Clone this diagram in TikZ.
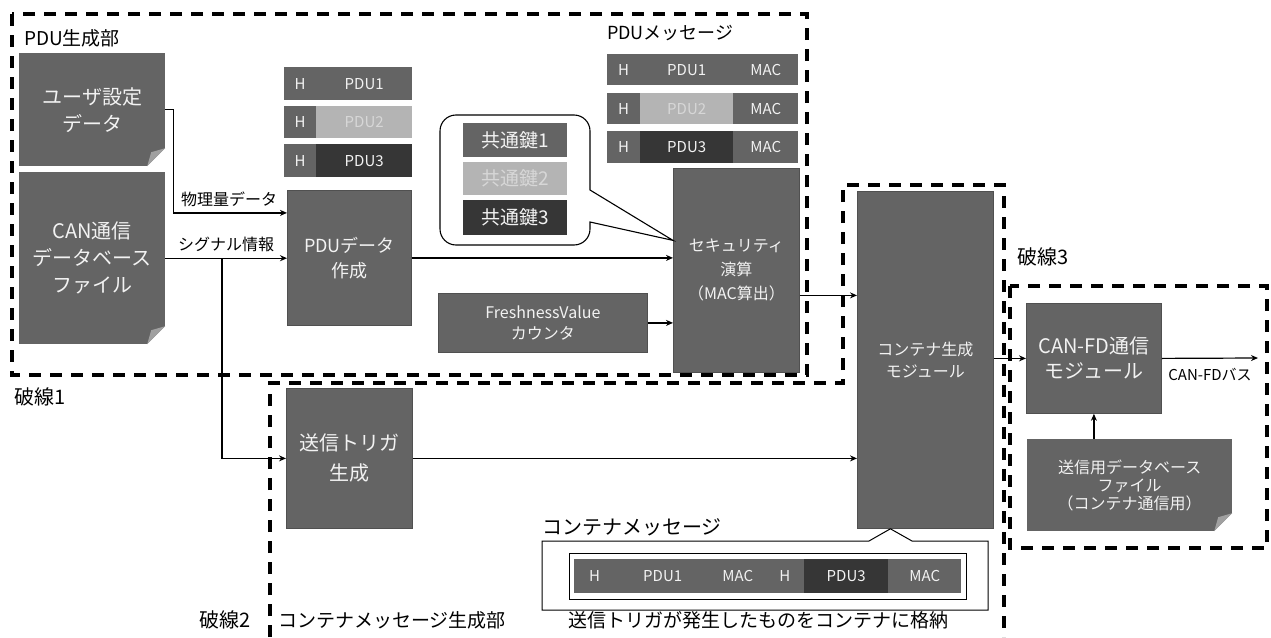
\documentclass[tikz,border=0pt]{standalone}
\usepackage{fontspec}
\setmainfont{Noto Sans CJK JP}
\usetikzlibrary{arrows.meta,calc}
\definecolor{mid}{RGB}{100,100,100}
\definecolor{midb}{RGB}{80,80,80}
\definecolor{lite}{RGB}{180,180,180}
\definecolor{litetxt}{RGB}{215,215,215}
\definecolor{dark}{RGB}{54,54,54}
\definecolor{txt}{RGB}{242,242,242}
\definecolor{fold}{RGB}{160,160,160}
\newcommand\fsz[2]{\fontsize{#1pt}{#2pt}\selectfont}
\begin{document}
\begin{tikzpicture}[x=1pt,y=-1pt,
  blk/.style={fill=mid, draw=midb, line width=0.8pt, text=txt, align=center, inner sep=0pt, anchor=north west},
  docshape/.style={fill=mid, text=txt, align=center, inner sep=0pt, anchor=north west,
    path picture={
      \fill[white] ([xshift=-18pt]path picture bounding box.south east) -- (path picture bounding box.south east) -- ([yshift=18pt]path picture bounding box.south east) -- cycle;
      \fill[fold] ([xshift=-18pt]path picture bounding box.south east) -- ([yshift=18pt]path picture bounding box.south east) -- ([xshift=-14pt,yshift=14pt]path picture bounding box.south east) -- cycle;
    }},
  seg/.style={inner sep=0pt, anchor=north west, text=txt, font=\fsz{15}{18}},
  zone/.style={draw=black, line width=3.2pt, dash pattern=on 12pt off 9pt},
  lbl/.style={inner sep=0pt, text=black},
  arr/.style={draw=black, line width=1.2pt, -{Stealth[length=7pt,width=6pt]}},
]
\useasboundingbox (0,0) rectangle (1271,637);
\fill[white] (0,0) rectangle (1271,637);

% dashed zones
\draw[zone] (12,14) rectangle (807,375);
\draw[zone] (270,637) -- (270,383) -- (843,383) -- (843,185) -- (1004,185) -- (1004,637);
\draw[zone] (1010,286) rectangle (1267,548);

% zone labels
\node[lbl, anchor=west, font=\fsz{19}{22}] (t1) at (24,38) {PDU生成部};
\node[lbl, anchor=west, font=\fsz{20}{24}] (t2) at (14,397) {破線1};
\node[lbl, anchor=west, font=\fsz{20}{24}] (t3) at (199,620) {破線2};
\node[lbl, anchor=west, font=\fsz{19}{22}] (t4) at (278,620) {コンテナメッセージ生成部};
\node[lbl, anchor=west, font=\fsz{19}{22}] (t5) at (568,620) {送信トリガが発生したものをコンテナに格納};
\node[lbl, anchor=west, font=\fsz{20}{24}] (t6) at (1017,257) {破線3};
\node[lbl, anchor=west, font=\fsz{18}{22}] (t7) at (607,33) {PDUメッセージ};
\node[lbl, anchor=west, font=\fsz{20}{24}] (t8) at (542,527) {コンテナメッセージ};

% documents
\node[docshape, minimum width=146pt, minimum height=113pt, font=\fsz{20}{27}] (user) at (19,53) {ユーザ設定\\データ};
\node[docshape, minimum width=146pt, minimum height=172pt, font=\fsz{20}{27}] (can) at (19,172) {CAN通信\\データベース\\ファイル};
\node[docshape, minimum width=205pt, minimum height=92pt, font=\fsz{16}{18}] (db) at (1027,439) {送信用データベース\\ファイル\\（コンテナ通信用）};

% blocks
\node[blk, minimum width=124pt, minimum height=135pt, font=\fsz{18}{25}] (pdu) at (287,190) {PDUデータ\\作成};
\node[blk, minimum width=126pt, minimum height=204pt, font=\fsz{16}{24}] (sec) at (673,168) {セキュリティ\\演算\\（MAC算出）};
\node[blk, minimum width=209pt, minimum height=59pt, font=\fsz{16}{21}] (fresh) at (438,293) {FreshnessValue\\カウンタ};
\node[blk, minimum width=126pt, minimum height=140pt, font=\fsz{20}{30}] (trig) at (286,388) {送信トリガ\\生成};
\node[blk, minimum width=136pt, minimum height=337pt, font=\fsz{16}{22}] (cont) at (857,191) {コンテナ生成\\モジュール};
\node[blk, minimum width=135pt, minimum height=110pt, font=\fsz{20}{25}] (canfd) at (1026,303) {CAN-FD通信\\モジュール};

% PDU rows (left)
\node[seg, fill=mid, minimum width=32pt, minimum height=33pt] (a1h) at (284,67) {H};
\node[seg, fill=mid, minimum width=96pt, minimum height=33pt] (a1p) at (316,67) {PDU1};
\node[seg, fill=mid, minimum width=32pt, minimum height=32pt] (a2h) at (284,106) {H};
\node[seg, fill=lite, text=litetxt, minimum width=96pt, minimum height=32pt] (a2p) at (316,106) {PDU2};
\node[seg, fill=mid, minimum width=32pt, minimum height=33pt] (a3h) at (284,144) {H};
\node[seg, fill=dark, minimum width=96pt, minimum height=33pt] (a3p) at (316,144) {PDU3};

% PDU message rows
\node[seg, fill=mid, minimum width=33pt, minimum height=31pt] (b1h) at (607,54) {H};
\node[seg, fill=mid, minimum width=93pt, minimum height=31pt] (b1p) at (640,54) {PDU1};
\node[seg, fill=mid, minimum width=65pt, minimum height=31pt] (b1m) at (733,54) {MAC};
\node[seg, fill=mid, minimum width=33pt, minimum height=31pt] (b2h) at (607,93) {H};
\node[seg, fill=lite, text=litetxt, minimum width=93pt, minimum height=31pt] (b2p) at (640,93) {PDU2};
\node[seg, fill=mid, minimum width=65pt, minimum height=31pt] (b2m) at (733,93) {MAC};
\node[seg, fill=mid, minimum width=33pt, minimum height=32pt] (b3h) at (607,131) {H};
\node[seg, fill=dark, minimum width=93pt, minimum height=32pt] (b3p) at (640,131) {PDU3};
\node[seg, fill=mid, minimum width=65pt, minimum height=32pt] (b3m) at (733,131) {MAC};

% key callout
\coordinate (ktip) at ([yshift=30pt]sec.west);
\draw[line width=1.1pt, fill=white] (590,190) [rounded corners=16pt] -- (590,115) -- (440,115) -- (440,245) -- (590,245) [sharp corners] -- (590,222) -- (ktip) -- cycle;
\node[seg, fill=mid, font=\fsz{19}{22}, minimum width=104pt, minimum height=34pt] (k1) at (463,123) {共通鍵1};
\node[seg, fill=lite, text=litetxt, font=\fsz{19}{22}, minimum width=104pt, minimum height=33pt] (k2) at (463,162) {共通鍵2};
\node[seg, fill=dark, font=\fsz{19}{22}, minimum width=104pt, minimum height=35pt] (k3) at (463,200) {共通鍵3};

% container message callout
\coordinate (ctip) at ([xshift=-35pt]cont.south);
\draw[line width=1pt, fill=white] (542,541) -- (869,541) -- (ctip) -- (912,541) -- (988,541) -- (988,610) -- (542,610) -- cycle;
\draw[line width=1pt] (569,553) rectangle (966,599);
\node[seg, fill=mid, minimum width=41pt, minimum height=34pt] (c1) at (574,559) {H};
\node[seg, fill=mid, minimum width=95pt, minimum height=34pt] (c2) at (615,559) {PDU1};
\node[seg, fill=mid, minimum width=55pt, minimum height=34pt] (c3) at (710,559) {MAC};
\node[seg, fill=mid, minimum width=39pt, minimum height=34pt] (c4) at (765,559) {H};
\node[seg, fill=dark, minimum width=84pt, minimum height=34pt] (c5) at (804,559) {PDU3};
\node[seg, fill=mid, minimum width=73pt, minimum height=34pt] (c6) at (888,559) {MAC};

% connectors
\draw[arr] (user.east) -- ++(8,0) |- ([yshift=45pt]pdu.west);
\node[lbl, font=\fsz{16}{19}] (lb1) at (229,199) {物理量データ};
\draw[arr] (can.east) -- (can.east -| pdu.west);
\node[lbl, font=\fsz{16}{19}] (lb2) at (226,244) {シグナル情報};
\coordinate (br) at (can.east -| 222,0);
\draw[arr] (br) |- (trig.west);
\draw[arr] (pdu.east) -- (pdu.east -| sec.west);
\draw[arr] (fresh.east) -- (fresh.east -| sec.west);
\draw[arr] ([yshift=-25pt]sec.east) -- ([yshift=-25pt]sec.east -| cont.west);
\draw[arr] (trig.east) -- (trig.east -| cont.west);
\draw[arr] (canfd.west -| cont.east) -- (canfd.west);
\coordinate (bus) at (1258,358);
\draw[arr] (canfd.east) -- (bus);
\node[lbl, font=\fsz{15}{18}] (lb3) at (1210,375) {CAN-FDバス};
\draw[arr] (db.north -| canfd.south) -- (canfd.south);
\end{tikzpicture}
\end{document}
